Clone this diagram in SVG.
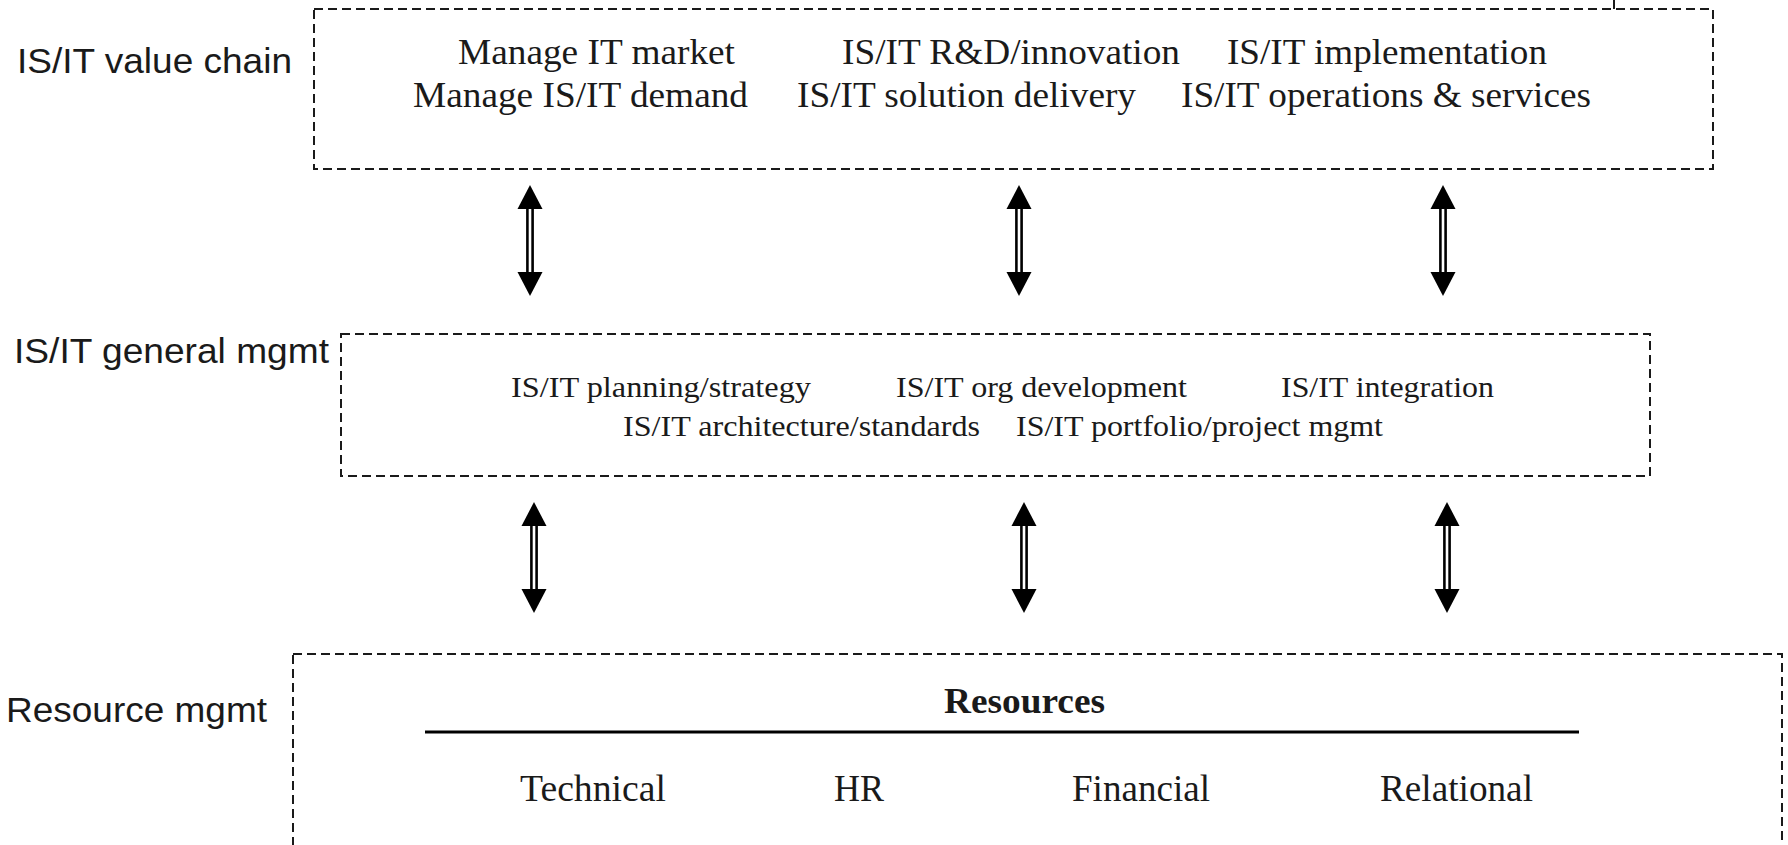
<svg xmlns="http://www.w3.org/2000/svg" width="1788" height="845" viewBox="0 0 1788 845">
<style>
.box{fill:none;stroke:#1a1a1a;stroke-width:2;stroke-dasharray:9 5}
.lbl{font-family:"Liberation Sans",Arial,sans-serif;font-size:35px;fill:#1a1a1a}
.t1{font-family:"Liberation Serif","Times New Roman",serif;font-size:36px;fill:#1a1a1a}
.t2{font-family:"Liberation Serif","Times New Roman",serif;font-size:30px;fill:#1a1a1a}
.t3{font-family:"Liberation Serif","Times New Roman",serif;font-size:37px;fill:#1a1a1a}
.tb{font-family:"Liberation Serif","Times New Roman",serif;font-size:35px;font-weight:bold;fill:#1a1a1a}
</style>
<defs>
<g id="dblarrow">
<line x1="-2.6" y1="20" x2="-2.6" y2="92" stroke="#000" stroke-width="2.6"/>
<line x1="2.6" y1="20" x2="2.6" y2="92" stroke="#000" stroke-width="2.6"/>
<polygon points="0,0 12.5,24 -12.5,24" fill="#000"/>
<polygon points="0,111 12.5,87 -12.5,87" fill="#000"/>
</g>
</defs>
<rect width="1788" height="845" fill="#fff"/>
<line x1="1614" y1="0" x2="1614" y2="9" stroke="#1a1a1a" stroke-width="2"/>

<g id="value-chain">
<rect class="box" x="314" y="9" width="1399" height="160"/>
<text class="lbl" x="17" y="73" textLength="275" lengthAdjust="spacingAndGlyphs">IS/IT value chain</text>
<text class="t1" x="458" y="64" textLength="277" lengthAdjust="spacingAndGlyphs">Manage IT market</text>
<text class="t1" x="842" y="64" textLength="338" lengthAdjust="spacingAndGlyphs">IS/IT R&amp;D/innovation</text>
<text class="t1" x="1227" y="64" textLength="320" lengthAdjust="spacingAndGlyphs">IS/IT implementation</text>
<text class="t1" x="413" y="107" textLength="335" lengthAdjust="spacingAndGlyphs">Manage IS/IT demand</text>
<text class="t1" x="797" y="107" textLength="339" lengthAdjust="spacingAndGlyphs">IS/IT solution delivery</text>
<text class="t1" x="1181" y="107" textLength="410" lengthAdjust="spacingAndGlyphs">IS/IT operations &amp; services</text>
</g>

<g id="general-mgmt">
<rect class="box" x="341" y="334" width="1309" height="142"/>
<text class="lbl" x="14" y="363" textLength="315" lengthAdjust="spacingAndGlyphs">IS/IT general mgmt</text>
<text class="t2" x="511" y="397" textLength="300" lengthAdjust="spacingAndGlyphs">IS/IT planning/strategy</text>
<text class="t2" x="896" y="397" textLength="291" lengthAdjust="spacingAndGlyphs">IS/IT org development</text>
<text class="t2" x="1281" y="397" textLength="213" lengthAdjust="spacingAndGlyphs">IS/IT integration</text>
<text class="t2" x="623" y="436" textLength="357" lengthAdjust="spacingAndGlyphs">IS/IT architecture/standards</text>
<text class="t2" x="1016" y="436" textLength="367" lengthAdjust="spacingAndGlyphs">IS/IT portfolio/project mgmt</text>
</g>

<g id="resource-mgmt">
<rect class="box" x="293" y="654" width="1489" height="210"/>
<text class="lbl" x="6" y="722" textLength="261" lengthAdjust="spacingAndGlyphs">Resource mgmt</text>
<text class="tb" x="944" y="713" textLength="161" lengthAdjust="spacingAndGlyphs">Resources</text>
<line x1="425" y1="732" x2="1579" y2="732" stroke="#000" stroke-width="3"/>
<text class="t3" x="520" y="801" textLength="146" lengthAdjust="spacingAndGlyphs">Technical</text>
<text class="t3" x="834" y="801" textLength="50" lengthAdjust="spacingAndGlyphs">HR</text>
<text class="t3" x="1072" y="801" textLength="138" lengthAdjust="spacingAndGlyphs">Financial</text>
<text class="t3" x="1380" y="801" textLength="153" lengthAdjust="spacingAndGlyphs">Relational</text>
</g>

<g id="connectors">
<use href="#dblarrow" x="530" y="185"/>
<use href="#dblarrow" x="1019" y="185"/>
<use href="#dblarrow" x="1443" y="185"/>
<use href="#dblarrow" x="534" y="502"/>
<use href="#dblarrow" x="1024" y="502"/>
<use href="#dblarrow" x="1447" y="502"/>
</g>
</svg>
